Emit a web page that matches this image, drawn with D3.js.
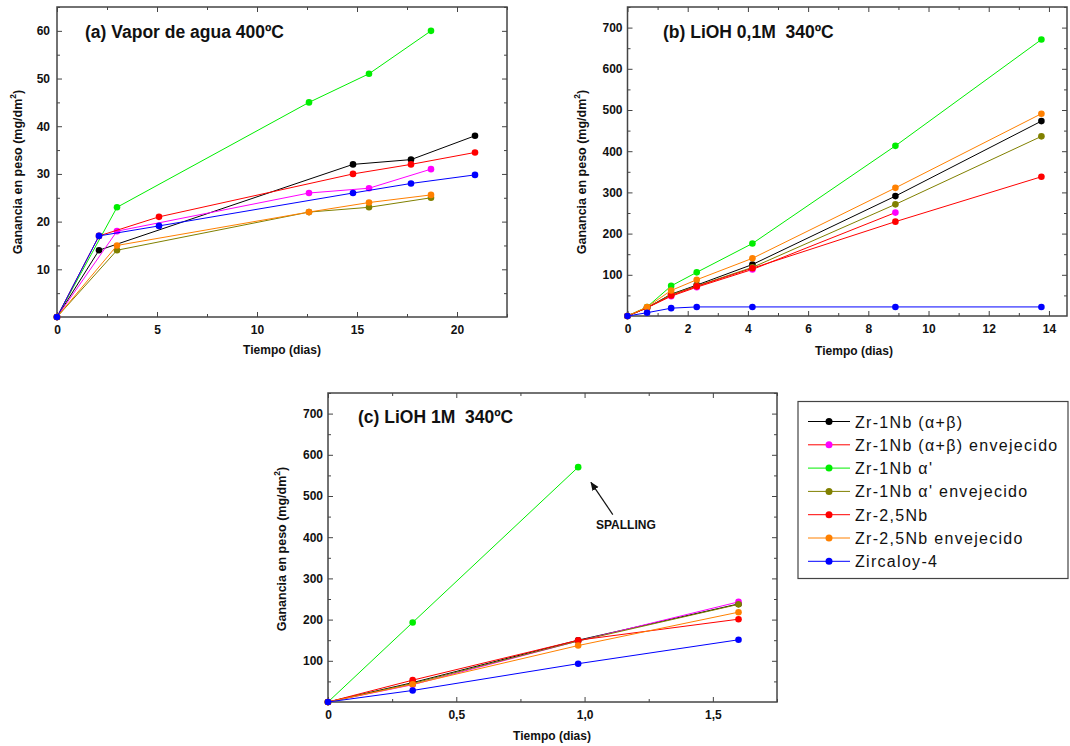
<!DOCTYPE html>
<html><head><meta charset="utf-8">
<script src="https://cdn.jsdelivr.net/npm/d3@7"></script>
<style>
body{margin:0;background:#fff;}
svg{font-family:Arial,"Liberation Sans",sans-serif;}
</style></head>
<body><svg id="c" width="1070" height="746"></svg>
<script>
// ---------- DATA ----------
const seriesNames = ["Zr-1Nb (α+β)", "Zr-1Nb (α+β) envejecido", "Zr-1Nb α'", "Zr-1Nb α' envejecido", "Zr-2,5Nb", "Zr-2,5Nb envejecido", "Zircaloy-4"];

// (a) Vapor de agua 400ºC
const daysA = [0, 2.1, 3.0, 5.1, 12.6, 14.8, 15.6, 17.7, 18.7, 20.9];
const a_zr1nb_ab      = [0, 14, null, null, null, 32, null, 33, null, 38];
const a_zr1nb_ab_env  = [0, null, 18, null, 26, null, 27, null, 31, null];
const a_zr1nb_alfa    = [0, null, 23, null, 45, null, 51, null, 60, null];
const a_zr1nb_alfa_env= [0, null, 14, null, 22, null, 23, null, 25, null];
const a_zr25nb        = [0, 17, null, 21, null, 30, null, 32, null, 34.5];
const a_zr25nb_env    = [0, null, 15, null, 22, null, 24, null, 25.6, null];
const a_zry4          = [0, 17, null, 19.1, null, 26, null, 28, null, 29.8];

// (b) LiOH 0,1M 340ºC
const daysB = [0, 0.65, 1.45, 2.3, 4.15, 8.9, 13.75];
const b_zr1nb_ab      = [0, 20, 53, 75, 125, 291, 473];
const b_zr1nb_ab_env  = [0, 20, 48, 70, 113, 251, null];
const b_zr1nb_alfa    = [0, 22, 73, 106, 176, 413, 671];
const b_zr1nb_alfa_env= [0, 20, 52, 73, 118, 271, 436];
const b_zr25nb        = [0, 20, 50, 72, 116, 229, 338];
const b_zr25nb_env    = [0, 22, 62, 88, 140, 311, 491];
const b_zry4          = [0, 8, 19, 22, 22, 22, 22];

// (c) LiOH 1M 340ºC
const daysC = [0, 0.33, 0.975, 1.6];
const c_zr1nb_ab      = [0, 47, 150, 238];
const c_zr1nb_ab_env  = [0, 42, 148, 243];
const c_zr1nb_alfa    = [0, 193, 570, null];
const c_zr1nb_alfa_env= [0, 45, 148, 237];
const c_zr25nb        = [0, 53, 150, 201];
const c_zr25nb_env    = [0, 43, 137, 218];
const c_zry4          = [0, 28, 93, 151];

const ticksXA = [0, 5, 10, 15, 20];
const ticksYA = [10, 20, 30, 40, 50, 60];
const ticksXB = [0, 2, 4, 6, 8, 10, 12, 14];
const ticksYB = [100, 200, 300, 400, 500, 600, 700];
const ticksXC = [0, 0.5, 1.0, 1.5];
const ticksYC = [100, 200, 300, 400, 500, 600, 700];

// ---------- STYLE ----------
const markerColors = ["#000000", "#ff00ff", "#00ee00", "#808000", "#ff0000", "#ff8000", "#0000ff"];
const legendLineColors = ["#000000", "#ff0000", "#00ee00", "#808000", "#ff0000", "#ff8000", "#0000ff"];

const svg = d3.select("#c");
const fmtComma = d => d3.format(".1f")(d).replace(".", ",");

function panel(opt) {
  const g = svg.append("g");
  const x = d3.scaleLinear().domain(opt.xDomain).range([opt.left, opt.right]);
  const y = d3.scaleLinear().domain(opt.yDomain).range([opt.bottom, opt.top]);

  const axCol = "#444";
  const mk = (axisFn, scale, vals, size, pos, fmt, pad) => {
    const a = axisFn(scale).tickValues(vals).tickSizeInner(size).tickSizeOuter(0).tickPadding(pad || 6);
    a.tickFormat(fmt === null ? () => "" : fmt);
    const ag = g.append("g").attr("transform", pos).call(a);
    ag.select(".domain").remove();
    ag.selectAll("line").attr("stroke", axCol).attr("stroke-width", 1);
    ag.selectAll("text").attr("font-size", 12).attr("font-weight", "bold").attr("fill", "#111")
      .attr("font-family", "Arial, 'Liberation Sans', sans-serif");
    return ag;
  };
  const bT = `translate(0,${opt.bottom})`, tT = `translate(0,${opt.top})`;
  const lT = `translate(${opt.left},0)`, rT = `translate(${opt.right},0)`;
  mk(d3.axisBottom, x, opt.xTicks, -5, bT, opt.xFmt, 8);
  mk(d3.axisBottom, x, opt.xMinor, -3, bT, null);
  mk(d3.axisTop, x, opt.xTicks, -5, tT, null);
  mk(d3.axisTop, x, opt.xMinor, -3, tT, null);
  mk(d3.axisLeft, y, opt.yTicks, -5, lT, d => d, opt.yPad);
  mk(d3.axisLeft, y, opt.yMinor, -3, lT, null);
  mk(d3.axisRight, y, opt.yTicks, -5, rT, null);
  mk(d3.axisRight, y, opt.yMinor, -3, rT, null);

  g.append("rect").attr("x", opt.left).attr("y", opt.top)
    .attr("width", opt.right - opt.left).attr("height", opt.bottom - opt.top)
    .attr("fill", "none").attr("stroke", axCol).attr("stroke-width", 1.5);

  const line = d3.line().x(d => x(d[0])).y(d => y(d[1]));
  opt.series.forEach((vals, i) => {
    const pts = opt.days.map((d, k) => [d, vals[k]]).filter(p => p[1] !== null);
    g.append("path").datum(pts).attr("d", line).attr("fill", "none")
      .attr("stroke", opt.lineColors[i]).attr("stroke-width", 1);
    g.selectAll(null).data(pts).enter().append("circle")
      .attr("cx", d => x(d[0])).attr("cy", d => y(d[1])).attr("r", 3.3)
      .attr("fill", markerColors[i]);
  });

  g.append("text").attr("x", opt.titleX).attr("y", opt.titleY)
    .attr("font-size", 17.5).attr("font-weight", "bold").attr("fill", "#111")
    .style("white-space", "pre").text(opt.title);
  g.append("text").attr("x", opt.xlabX).attr("y", opt.xlabY).attr("text-anchor", "middle")
    .attr("font-size", 12).attr("font-weight", "bold").attr("fill", "#111").text("Tiempo (dias)");
  const yl = g.append("text").attr("transform", `translate(${opt.ylabX},${opt.ylabY}) rotate(-90)`)
    .attr("text-anchor", "middle").attr("font-size", 12.5).attr("font-weight", "bold").attr("fill", "#111");
  yl.append("tspan").text("Ganancia en peso (mg/dm");
  yl.append("tspan").attr("dy", -6).attr("font-size", 8.5).text("2");
  yl.append("tspan").attr("dy", 6).text(")");
  return {g, x, y};
}

const range = (a, b, s) => d3.range(a, b + 1e-9, s);

panel({
  left: 57, right: 507, top: 7, bottom: 317,
  xDomain: [0, 22.5], yDomain: [0, 65],
  xTicks: ticksXA, xMinor: range(2.5, 22.5, 5), yTicks: ticksYA, yMinor: range(5, 65, 10),
  xFmt: d => d, yPad: 7,
  days: daysA,
  series: [a_zr1nb_ab, a_zr1nb_ab_env, a_zr1nb_alfa, a_zr1nb_alfa_env, a_zr25nb, a_zr25nb_env, a_zry4],
  lineColors: markerColors,
  title: "(a) Vapor de agua 400ºC", titleX: 85, titleY: 38,
  xlabX: 282, xlabY: 354, ylabX: 21.5, ylabY: 172
});

panel({
  left: 627.5, right: 1067, top: 7, bottom: 316,
  xDomain: [0, 14.6], yDomain: [0, 750],
  xTicks: ticksXB, xMinor: range(1, 14, 2), yTicks: ticksYB, yMinor: range(50, 750, 100),
  xFmt: d => d, yPad: 5,
  days: daysB,
  series: [b_zr1nb_ab, b_zr1nb_ab_env, b_zr1nb_alfa, b_zr1nb_alfa_env, b_zr25nb, b_zr25nb_env, b_zry4],
  lineColors: legendLineColors,
  title: "(b) LiOH 0,1M  340ºC", titleX: 663, titleY: 38,
  xlabX: 854, xlabY: 355, ylabX: 585.5, ylabY: 172
});

const pc = panel({
  left: 328, right: 777, top: 393, bottom: 702,
  xDomain: [0, 1.75], yDomain: [0, 750],
  xTicks: ticksXC, xMinor: range(0.25, 1.75, 0.5), yTicks: ticksYC, yMinor: range(50, 750, 100),
  xFmt: d => d === 0 ? "0" : fmtComma(d), yPad: 5,
  days: daysC,
  series: [c_zr1nb_ab, c_zr1nb_ab_env, c_zr1nb_alfa, c_zr1nb_alfa_env, c_zr25nb, c_zr25nb_env, c_zry4],
  lineColors: markerColors,
  title: "(c) LiOH 1M  340ºC", titleX: 358, titleY: 423,
  xlabX: 552, xlabY: 740, ylabX: 285.5, ylabY: 549
});

// SPALLING annotation
const defs = svg.append("defs");
defs.append("marker").attr("id", "arr").attr("viewBox", "0 0 10 10").attr("refX", 9).attr("refY", 5)
  .attr("markerWidth", 9).attr("markerHeight", 9).attr("orient", "auto-start-reverse")
  .attr("markerUnits", "userSpaceOnUse")
  .append("path").attr("d", "M0,1 L10,5 L0,9 Z").attr("fill", "#111");
pc.g.append("line")
  .attr("x1", pc.x(1.11)).attr("y1", pc.y(455))
  .attr("x2", pc.x(1.025)).attr("y2", pc.y(533))
  .attr("stroke", "#111").attr("stroke-width", 1.2).attr("marker-end", "url(#arr)");
pc.g.append("text").attr("x", 596).attr("y", 529).attr("font-size", 12).attr("font-weight", "bold")
  .attr("fill", "#111").text("SPALLING");

// Legend
const lg = svg.append("g");
lg.append("rect").attr("x", 798).attr("y", 401.5).attr("width", 270).attr("height", 177)
  .attr("fill", "#fff").attr("stroke", "#444").attr("stroke-width", 1.2);
seriesNames.forEach((name, i) => {
  const yy = 421.5 + i * 23.3;
  lg.append("line").attr("x1", 808).attr("x2", 850).attr("y1", yy).attr("y2", yy)
    .attr("stroke", legendLineColors[i]).attr("stroke-width", 1);
  lg.append("circle").attr("cx", 829).attr("cy", yy).attr("r", 3.5).attr("fill", markerColors[i]);
  lg.append("text").attr("x", 855).attr("y", yy + 6).attr("font-size", 16).attr("fill", "#111")
    .attr("letter-spacing", 1.3)
    .attr("font-family", "Arial, 'Liberation Sans', sans-serif").text(name);
});
</script></body></html>
